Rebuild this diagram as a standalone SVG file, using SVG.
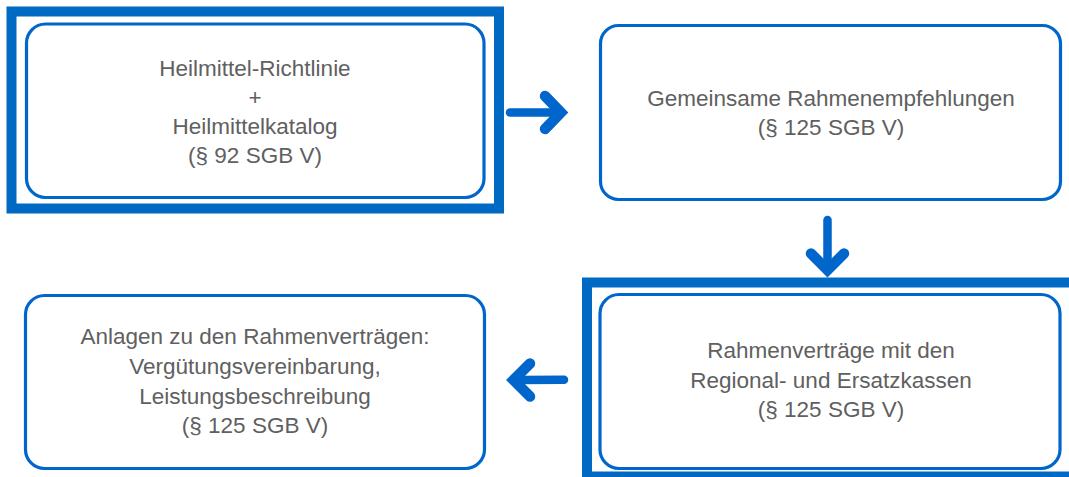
<svg xmlns="http://www.w3.org/2000/svg" width="1069" height="477" viewBox="0 0 1069 477">
<defs>
<style>
.frame{fill:none;stroke:#0069C4;stroke-width:10}
.box{fill:#fff;stroke:#0066CC;stroke-width:3.2}
.t{font-family:"Liberation Sans",Arial,sans-serif;font-size:22.5px;fill:#606060;text-anchor:middle}
.shaft{fill:none;stroke:#0066CC;stroke-width:8.5;stroke-linecap:round}
.head{fill:none;stroke:#0066CC;stroke-width:10.5;stroke-linecap:round;stroke-linejoin:miter;stroke-miterlimit:4}
</style>
</defs>
<rect width="1069" height="477" fill="#fff"/>
<g id="node-richtlinie">
<rect class="frame" x="11.5" y="11.5" width="487.5" height="197"/>
<rect class="box" x="26.5" y="24" width="457.5" height="173.5" rx="19"/>
<text class="t" x="255" y="76">Heilmittel-Richtlinie</text>
<text class="t" x="255" y="105">+</text>
<text class="t" x="255" y="134">Heilmittelkatalog</text>
<text class="t" x="255" y="163">(§ 92 SGB V)</text>
</g>
<g id="node-rahmenempfehlungen">
<rect class="box" x="600.5" y="25.5" width="460" height="174" rx="18"/>
<text class="t" x="831" y="106">Gemeinsame Rahmenempfehlungen</text>
<text class="t" x="831" y="135">(§ 125 SGB V)</text>
</g>
<g id="node-rahmenvertraege">
<rect class="frame" x="587" y="282.5" width="495" height="194"/>
<rect class="box" x="600" y="294.5" width="460" height="174" rx="19"/>
<text class="t" x="831" y="358">Rahmenverträge mit den</text>
<text class="t" x="831" y="387.5">Regional- und Ersatzkassen</text>
<text class="t" x="831" y="417">(§ 125 SGB V)</text>
</g>
<g id="node-anlagen">
<rect class="box" x="25.5" y="295.5" width="459" height="173" rx="19"/>
<text class="t" x="255" y="344">Anlagen zu den Rahmenverträgen:</text>
<text class="t" x="255" y="374">Vergütungsvereinbarung,</text>
<text class="t" x="255" y="403.5">Leistungsbeschreibung</text>
<text class="t" x="255" y="433">(§ 125 SGB V)</text>
</g>
<g id="connectors">
<g id="arrow-1">
<line class="shaft" x1="510" y1="112.5" x2="558" y2="112.5"/>
<polyline class="head" points="545,96 561,112.5 545,129"/>
</g>
<g id="arrow-2">
<line class="shaft" x1="827.5" y1="220" x2="827.5" y2="266"/>
<polyline class="head" points="811,253.5 827.5,270 844,253.5"/>
</g>
<g id="arrow-3">
<line class="shaft" x1="564" y1="379.7" x2="518" y2="380"/>
<polyline class="head" points="530,363.5 513.5,380 530,396.5"/>
</g>
</g>
</svg>
